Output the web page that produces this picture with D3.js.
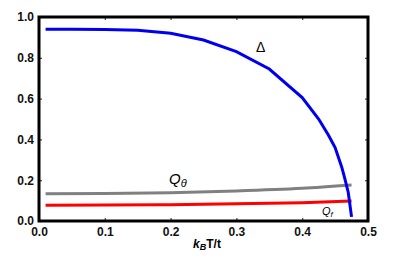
<!DOCTYPE html>
<html><head><meta charset="utf-8">
<script src="https://cdn.jsdelivr.net/npm/d3@7"></script>
<style>body{margin:0;background:#fff}svg{display:block}text{font-family:"Liberation Sans",Arial,sans-serif}</style>
</head><body>
<svg id="c" width="415" height="258"></svg>
<script>
const deltaX = [0.01, 0.05, 0.1, 0.15, 0.2, 0.25, 0.3, 0.35, 0.4, 0.425, 0.44, 0.45, 0.46, 0.465, 0.47, 0.475];
const deltaY = [0.94, 0.94, 0.939, 0.935, 0.92, 0.887, 0.83, 0.745, 0.605, 0.5, 0.42, 0.36, 0.265, 0.205, 0.14, 0.02];
const qThetaX = [0.01, 0.1, 0.2, 0.3, 0.4, 0.475];
const qThetaY = [0.133, 0.135, 0.139, 0.147, 0.16, 0.176];
const qfX = [0.01, 0.1, 0.2, 0.3, 0.4, 0.475];
const qfY = [0.077, 0.078, 0.080, 0.084, 0.090, 0.098];
const xTicks = [0.0, 0.1, 0.2, 0.3, 0.4, 0.5];
const yTicks = [0.0, 0.2, 0.4, 0.6, 0.8, 1.0];

const svg = d3.select("#c");
const L = 39, R = 368, T = 17, B = 221;
const x = d3.scaleLinear().domain([0, 0.5]).range([L, R]);
const y = d3.scaleLinear().domain([0, 1]).range([B, T]);

const g = svg.append("g");
g.append("g").attr("transform", `translate(0,${B})`)
  .call(d3.axisBottom(x).tickValues(xTicks).tickFormat(d3.format(".1f")).tickSizeInner(-3).tickSizeOuter(0).tickPadding(6))
  .call(s => s.select(".domain").remove());
g.append("g").attr("transform", `translate(${L},0)`)
  .call(d3.axisLeft(y).tickValues(yTicks).tickFormat(d3.format(".1f")).tickSizeInner(-3).tickSizeOuter(0).tickPadding(5))
  .call(s => s.select(".domain").remove());
g.append("g").attr("transform", `translate(0,${T})`)
  .call(d3.axisTop(x).tickValues(xTicks).tickFormat("").tickSizeInner(-3).tickSizeOuter(0))
  .call(s => s.select(".domain").remove());
g.append("g").attr("transform", `translate(${R},0)`)
  .call(d3.axisRight(y).tickValues(yTicks).tickFormat("").tickSizeInner(-3).tickSizeOuter(0))
  .call(s => s.select(".domain").remove());
g.selectAll(".tick line").attr("stroke", "#444").attr("stroke-width", 1.2);
g.selectAll(".tick text").attr("font-size", 12).attr("font-weight", "bold").attr("fill", "#111")
  .attr("font-family", '"Liberation Sans",Arial,sans-serif');

const line = d3.line().x(d => x(d[0])).y(d => y(d[1]));
const zip = (a, b) => a.map((v, i) => [v, b[i]]);
const lc = d3.line().curve(d3.curveMonotoneX).x(d => x(d[0])).y(d => y(d[1]));

svg.append("path").attr("d", lc(zip(qThetaX, qThetaY))).attr("fill", "none").attr("stroke", "#808080").attr("stroke-width", 3);
svg.append("path").attr("d", lc(zip(qfX, qfY))).attr("fill", "none").attr("stroke", "#ff0000").attr("stroke-width", 3);
svg.append("path").attr("d", line(zip(deltaX, deltaY))).attr("fill", "none").attr("stroke", "#0000ee").attr("stroke-width", 3);

svg.append("rect").attr("x", L).attr("y", T).attr("width", R - L).attr("height", B - T)
  .attr("fill", "none").attr("stroke", "#000").attr("stroke-width", 3);

svg.append("text").attr("x", 256).attr("y", 52).attr("font-size", 14).text("Δ");
const qt = svg.append("text").attr("x", 169).attr("y", 184).attr("font-size", 15).attr("font-style", "italic");
qt.append("tspan").text("Q");
qt.append("tspan").attr("dy", 3).attr("font-size", 11).text("θ");
const qf = svg.append("text").attr("x", 322).attr("y", 215).attr("font-size", 11).attr("font-style", "italic");
qf.append("tspan").text("Q");
qf.append("tspan").attr("dy", 2).attr("font-size", 8).text("f");

const xl = svg.append("text").attr("x", 207).attr("y", 248).attr("text-anchor", "middle").attr("font-size", 12).attr("font-weight", "bold");
xl.append("tspan").attr("font-style", "italic").text("k");
xl.append("tspan").attr("font-style", "italic").attr("font-size", 9).attr("dy", 2).text("B");
xl.append("tspan").attr("dy", -2).text("T/t");
</script>
</body></html>
